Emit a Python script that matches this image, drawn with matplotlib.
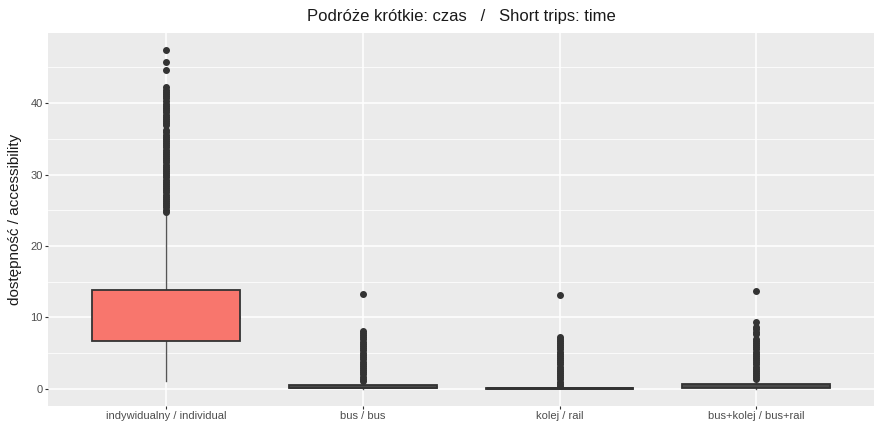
import matplotlib.pyplot as plt
import numpy as np

# categories and box statistics
labels = ['indywidualny / individual', 'bus / bus', 'kolej / rail', 'bus+kolej / bus+rail']
q1 = [6.65, 0.10, 0.00, 0.10]
med = [10.0, 0.25, 0.03, 0.30]
q3 = [13.84, 0.50, 0.08, 0.60]
whislo = [1.07, 0.0, 0.0, 0.0]
whishi = [24.6, 1.0, 0.25, 1.2]

out_ind = [24.8, 25.1, 25.4, 25.7, 26.0, 26.3, 26.6, 26.9, 27.2, 27.5, 27.8, 28.1,
           28.4, 28.7, 29.0, 29.3, 29.6, 29.9, 30.2, 30.5, 30.8, 31.1, 31.4, 31.7,
           32.0, 32.3, 32.6, 32.9, 33.2, 33.5, 33.8, 34.1, 34.4, 34.7, 35.0, 35.3,
           35.6, 35.9, 36.2, 36.9, 37.2, 37.5, 37.8, 38.1, 38.4, 38.7, 39.0, 39.3,
           39.6, 39.9, 40.3, 40.7, 41.0, 41.3, 41.6, 41.9, 42.2, 44.6, 45.8, 47.4]
out_bus = [1.1, 1.4, 1.7, 2.0, 2.3, 2.6, 2.9, 3.2, 3.5, 3.8, 4.1, 4.4, 4.7, 5.0,
           5.4, 5.7, 6.0, 6.3, 6.6, 6.9, 7.2, 7.5, 7.8, 8.1, 13.2]
out_rail = [0.4, 0.7, 1.0, 1.3, 1.6, 1.9, 2.2, 2.5, 2.8, 3.1, 3.4, 3.7, 4.0, 4.3,
            4.6, 4.9, 5.2, 5.5, 5.8, 6.1, 6.4, 6.7, 7.0, 7.3, 13.1]
out_busrail = [1.3, 1.6, 1.9, 2.2, 2.5, 2.8, 3.1, 3.4, 3.7, 4.0, 4.3, 4.6, 4.9,
               5.2, 5.5, 5.8, 6.1, 6.4, 6.7, 7.0, 7.6, 8.0, 8.3, 8.6, 9.4, 13.7]
fliers = [out_ind, out_bus, out_rail, out_busrail]

plt.rcParams['font.family'] = ['Liberation Sans', 'DejaVu Sans']

stats = []
for i in range(len(labels)):
    stats.append(dict(q1=q1[i], med=med[i], q3=q3[i], whislo=whislo[i],
                      whishi=whishi[i], fliers=fliers[i], label=labels[i]))

fig = plt.figure(figsize=(8.76, 4.26), dpi=100)
ax = fig.add_axes([0.055, 0.048, 0.943, 0.874])
ax.set_facecolor('#EBEBEB')

dark = '#333333'
bp = ax.bxp(stats, positions=[1, 2, 3, 4], widths=0.75, patch_artist=True,
            showcaps=False,
            boxprops=dict(facecolor='#F8766D', edgecolor=dark, linewidth=1.3),
            medianprops=dict(color=dark, linewidth=2.0),
            whiskerprops=dict(color='#555555', linewidth=1.0),
            flierprops=dict(marker='o', markersize=4.0, markerfacecolor=dark,
                            markeredgecolor=dark, linestyle='none'))
for k, b in enumerate(bp['boxes']):
    b.set_zorder(3)
    if k > 0:
        b.set_facecolor('#4A4A4A')

ax.set_xlim(0.4, 4.6)
ax.set_ylim(-2.37, 49.8)
ax.set_yticks([0, 10, 20, 30, 40])
ax.set_yticks([5, 15, 25, 35, 45], minor=True)
ax.set_xticks([1, 2, 3, 4])
ax.set_xticklabels(labels)
ax.grid(True, which='major', color='white', linewidth=1.1)
ax.grid(True, which='minor', axis='y', color='white', linewidth=0.55)
ax.set_axisbelow(True)
for s in ax.spines.values():
    s.set_visible(False)
ax.tick_params(axis='both', which='major', colors='#333333', labelcolor='#4D4D4D',
               labelsize=8, length=2.5, width=0.8, pad=1.5)
ax.tick_params(axis='both', which='minor', length=0)

ax.set_ylabel('dostępność / accessibility', fontsize=11, color='#1A1A1A', labelpad=6)
# title centred over the panel, as ggplot does
fig.text(0.055 + 0.943 / 2, 0.962, 'Podróże krótkie: czas   /   Short trips: time',
         ha='center', va='center', fontsize=12, color='#1A1A1A')

fig.savefig('out.png', dpi=100)
